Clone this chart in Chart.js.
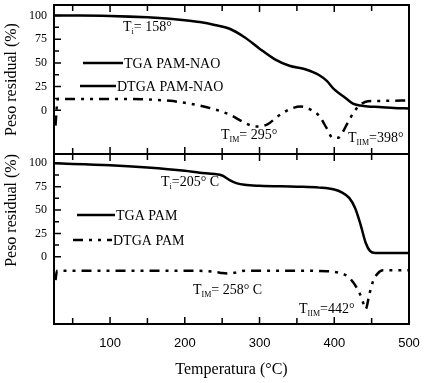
<!DOCTYPE html>
<html>
<head>
<meta charset="utf-8">
<script src="https://cdn.jsdelivr.net/npm/chart.js@4.4.1/dist/chart.umd.min.js"></script>
<style>
  html, body { margin: 0; padding: 0; background: #fff; }
  #wrap { position: relative; width: 424px; height: 383px; }
  #wrap canvas { position: absolute; left: 0; top: 0; }
</style>
</head>
<body>
<div id="wrap">
  <canvas id="topChart" width="424" height="383"></canvas>
  <canvas id="botChart" width="424" height="383"></canvas>
</div>
<script>
// tick labels
const xTickValues = [100, 200, 300, 400, 500];
const yTickValues = [0, 25, 50, 75, 100];

// TGA PAM-NAO (top, solid)
const tgaNaoTemp = [25, 60, 100, 150, 180, 200, 220, 240, 260, 280, 300, 320, 340, 360, 380, 390, 400, 415, 425, 435, 445, 460, 480, 500];
const tgaNaoPeso = [100, 100, 99.5, 98, 96.5, 95, 93, 90, 86, 77, 65, 54, 47, 43.5, 37, 31, 22, 13, 7, 5, 4, 3.5, 2.5, 2];

// DTGA PAM-NAO (top, dash-dot)
const dtgaNaoTemp = [27, 30, 60, 100, 150, 180, 200, 220, 240, 260, 280, 295, 310, 325, 340, 355, 370, 380, 390, 398, 405, 412, 418, 427, 435, 445, 470, 500];
const dtgaNaoVal = [-16, 12, 12, 12, 11.5, 10, 8, 5, 1, -4.5, -13, -17, -15, -6, 1, 4, 0, -6, -19, -29, -29, -22, -13, -1, 6, 9.5, 10, 10.5];

// TGA PAM (bottom, solid)
const tgaPamTemp = [25, 100, 150, 200, 220, 240, 250, 260, 270, 280, 300, 350, 380, 400, 410, 420, 428, 435, 442, 448, 455, 470, 500];
const tgaPamPeso = [100, 98, 95.5, 92, 90, 88.5, 87, 82, 78.5, 77, 76, 75, 74, 72, 69, 63, 52, 35, 15, 6, 4, 4, 4];

// DTGA PAM (bottom, dash-dot)
const dtgaPamTemp = [27, 29, 60, 100, 150, 200, 240, 250, 258, 268, 280, 300, 350, 390, 405, 418, 425, 432, 437, 442, 447, 452, 458, 465, 480, 500];
const dtgaPamVal = [-25, -15, -15, -15, -15, -15, -16, -17.5, -18, -17, -15, -15, -15, -15.5, -17, -21, -27, -36, -45, -56, -40, -26, -18, -14.5, -14.5, -14.5];

const SERIF = "'Liberation Serif', 'Times New Roman', serif";
const SANS = "'Liberation Sans', Arial, sans-serif";
const DASH = [10, 6, 3, 6, 3, 6];

const toPoints = (xs, ys) => xs.map((x, i) => ({ x, y: ys[i] }));

// text like T_i= 158° with a subscript part
function drawRich(ctx, item) {
  let x = item.x;
  ctx.fillStyle = '#000';
  ctx.textBaseline = 'alphabetic';
  ctx.textAlign = 'left';
  ctx.font = '14px ' + SERIF;
  ctx.fillText(item.t, x, item.y);
  x += ctx.measureText(item.t).width;
  if (item.sub) {
    ctx.font = '8px ' + SERIF;
    ctx.fillText(item.sub, x, item.y + 3);
    x += ctx.measureText(item.sub).width;
  }
  ctx.font = '14px ' + SERIF;
  ctx.fillText(item.rest || '', x, item.y);
}

const framePlugin = {
  id: 'frame',
  afterDatasetsDraw(chart, args, opts) {
    const { ctx, chartArea: a, scales } = chart;
    const xs = scales.x, ys = scales.y;
    ctx.save();
    ctx.strokeStyle = '#000';

    // inward ticks
    ctx.lineWidth = 1.5;
    ctx.beginPath();
    for (let v = 50; v <= 500; v += 50) {
      const px = xs.getPixelForValue(v);
      const len = v % 100 === 0 ? 7 : 6;
      ctx.moveTo(px, a.top); ctx.lineTo(px, a.top + len);
      ctx.moveTo(px, a.bottom); ctx.lineTo(px, a.bottom - len);
    }
    for (let v = 0; v <= 100; v += 12.5) {
      const py = ys.getPixelForValue(v);
      const len = v % 25 === 0 ? 7 : 5;
      ctx.moveTo(a.left, py); ctx.lineTo(a.left + len, py);
    }
    ctx.stroke();

    ctx.lineWidth = 2;
    ctx.strokeRect(a.left, a.top, a.right - a.left, a.bottom - a.top);

    // legend inside the plot
    (opts.legend || []).forEach(e => {
      const ds = chart.data.datasets[e.ds];
      ctx.lineWidth = 2.5;
      ctx.setLineDash(e.dash || ds.borderDash || []);
      ctx.beginPath();
      ctx.moveTo(e.x1, e.y);
      ctx.lineTo(e.x2, e.y);
      ctx.stroke();
      ctx.setLineDash([]);
      ctx.fillStyle = '#000';
      ctx.font = '14px ' + SERIF;
      ctx.textBaseline = 'middle';
      ctx.textAlign = 'left';
      ctx.fillText(ds.label, e.x2 + 1, e.y + 1);
    });

    (opts.notes || []).forEach(n => drawRich(ctx, n));
    ctx.restore();
  }
};

function makeChart(id, datasets, yMin, yMax, pad, showX, titleAlign, frameOpts) {
  return new Chart(document.getElementById(id), {
    type: 'line',
    data: { datasets },
    options: {
      responsive: false,
      animation: false,
      layout: { padding: pad },
      plugins: { legend: { display: false }, tooltip: { enabled: false }, frame: frameOpts },
      elements: {
        point: { radius: 0 },
        line: { borderWidth: 2.5, borderColor: '#000', cubicInterpolationMode: 'monotone', borderCapStyle: 'butt' }
      },
      scales: {
        x: {
          type: 'linear', min: 25, max: 500, display: showX,
          afterBuildTicks: s => { s.ticks = xTickValues.map(v => ({ value: v })); },
          afterFit: s => {
            s.height = showX ? 59 : 0;
            s.paddingLeft = 0; s.paddingRight = 0;
          },
          grid: { display: false, drawTicks: false },
          border: { display: false },
          ticks: { font: { family: SANS, size: 13 }, color: '#000', padding: 12, maxRotation: 0 },
          title: { display: true, text: 'Temperatura (°C)', font: { family: SERIF, size: 16 }, color: '#000', padding: { top: 0, bottom: 4 } }
        },
        y: {
          min: yMin, max: yMax,
          afterBuildTicks: s => { s.ticks = yTickValues.map(v => ({ value: v })); },
          afterFit: s => {
            s.width = 54;
            s.paddingTop = 0; s.paddingBottom = 0;
          },
          grid: { display: false, drawTicks: false },
          border: { display: false },
          ticks: { font: { family: SERIF, size: 12 }, color: '#000', padding: 7 },
          title: { display: true, text: 'Peso residual (%)', align: titleAlign, font: { family: SERIF, size: 16 }, color: '#000', padding: { top: 2, bottom: 0 } }
        }
      }
    },
    plugins: [framePlugin]
  });
}

makeChart('topChart', [
  { label: 'TGA PAM-NAO', data: toPoints(tgaNaoTemp, tgaNaoPeso) },
  { label: 'DTGA PAM-NAO', data: toPoints(dtgaNaoTemp, dtgaNaoVal), borderDash: DASH }
], -46, 111, { top: 5, right: 15, bottom: 229, left: 0 }, false, 'center', {
  legend: [
    { ds: 0, x1: 83, x2: 123, y: 63 },
    { ds: 1, x1: 80, x2: 116, y: 86, dash: [] }
  ],
  notes: [
    { x: 123, y: 31, t: 'T', sub: 'i', rest: '= 158°' },
    { x: 221, y: 139, t: 'T', sub: 'IM', rest: '= 295°' },
    { x: 348, y: 142, t: 'T', sub: 'IIM', rest: '=398°' }
  ]
});

makeChart('botChart', [
  { label: 'TGA PAM', data: toPoints(tgaPamTemp, tgaPamPeso) },
  { label: 'DTGA PAM', data: toPoints(dtgaPamTemp, dtgaPamVal), borderDash: DASH }
], -72, 110, { top: 154, right: 15, bottom: 0, left: 0 }, true, 'end', {
  legend: [
    { ds: 0, x1: 77, x2: 115, y: 215 },
    { ds: 1, x1: 73, x2: 112, y: 240 }
  ],
  notes: [
    { x: 161, y: 186, t: 'T', sub: 'i', rest: '=205° C' },
    { x: 193, y: 294, t: 'T', sub: 'IM', rest: '= 258° C' },
    { x: 299, y: 313, t: 'T', sub: 'IIM', rest: '=442°' }
  ]
});
</script>
</body>
</html>
